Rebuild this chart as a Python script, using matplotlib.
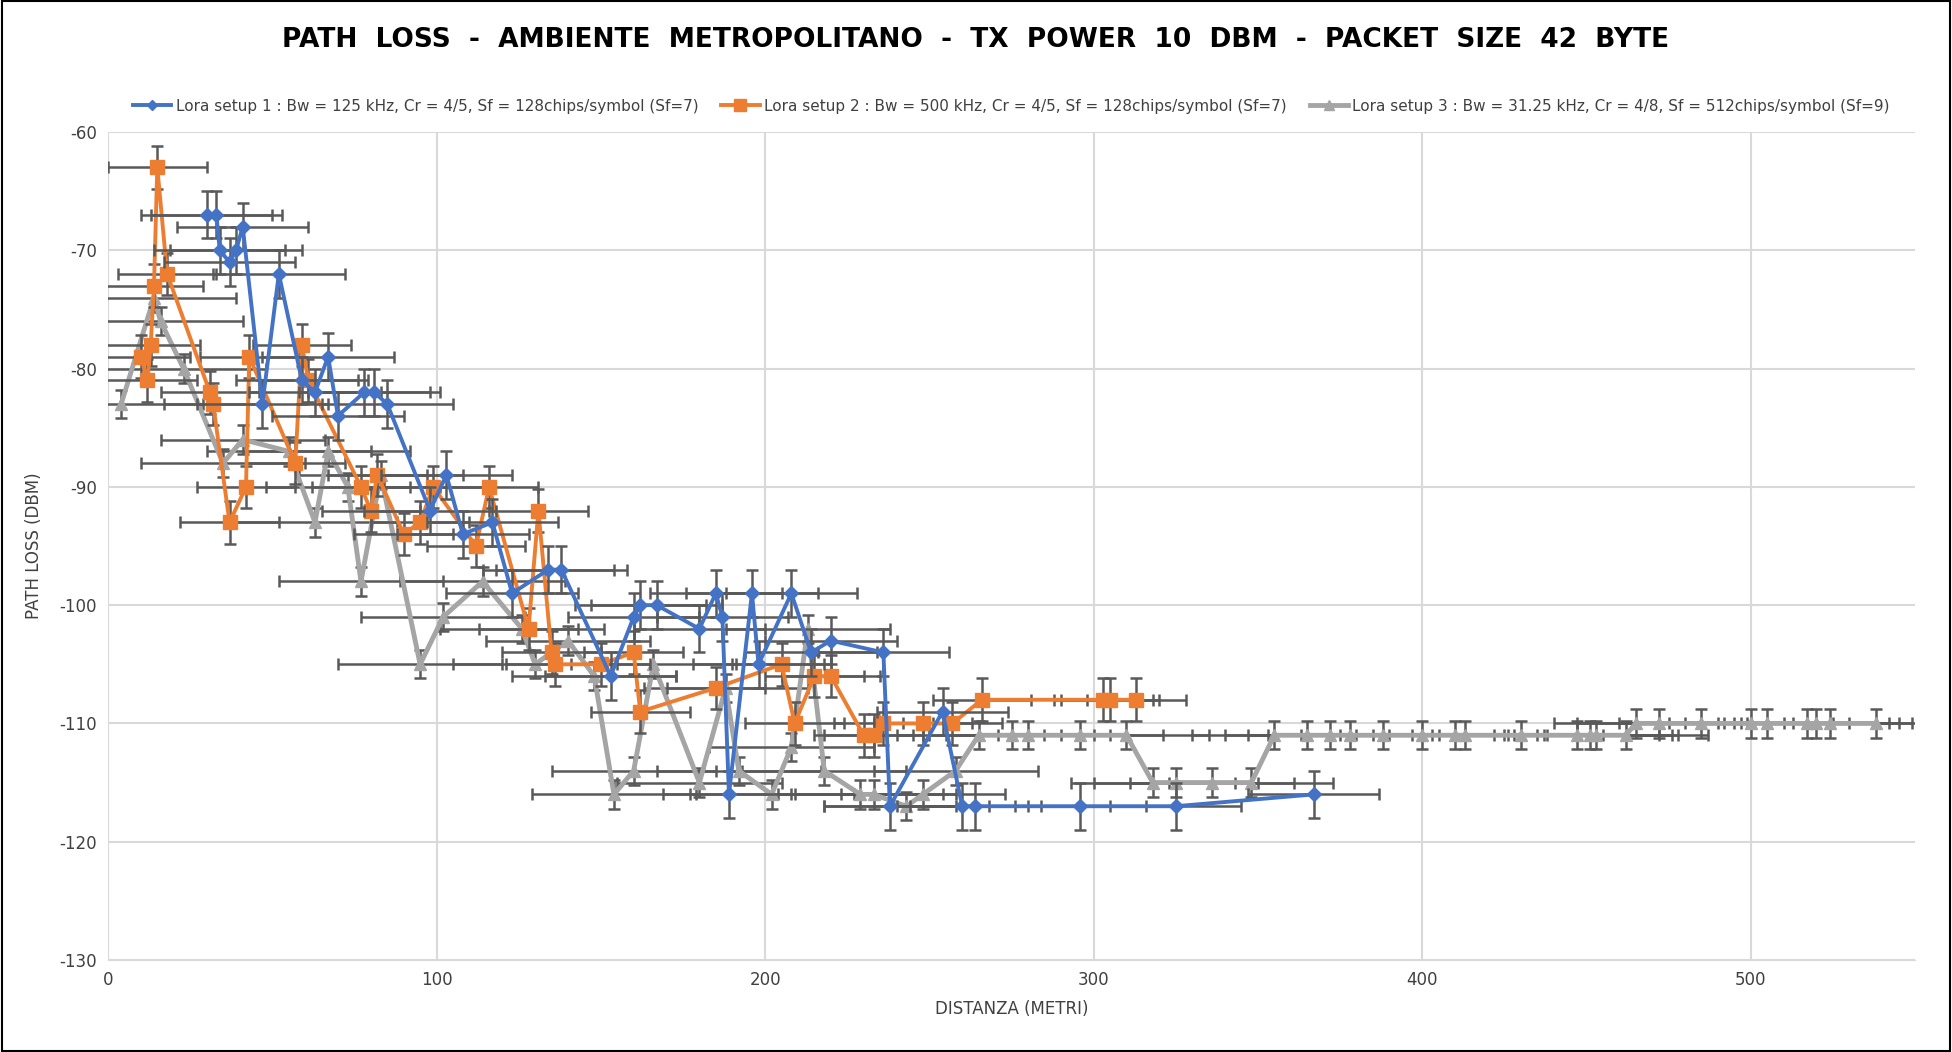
import matplotlib.pyplot as plt
from matplotlib.patches import Rectangle
from matplotlib.lines import Line2D

plt.rcParams['axes.unicode_minus'] = False

# Lora setup 1
x1 = [30, 33, 34, 37, 39, 41, 47, 52, 59, 63, 67, 70, 78, 81, 85, 98, 103, 108, 117, 123,
      134, 138, 153, 160, 162, 167, 180, 185, 187, 189, 196, 198, 208, 214, 220, 236, 238,
      254, 260, 264, 296, 325, 367]
y1 = [-67, -67, -70, -71, -70, -68, -83, -72, -81, -82, -79, -84, -82, -82, -83, -92, -89, -94, -93, -99,
      -97, -97, -106, -101, -100, -100, -102, -99, -101, -116, -99, -105, -99, -104, -103, -104, -117,
      -109, -117, -117, -117, -117, -116]

# Lora setup 2
x2 = [10, 12, 13, 14, 15, 18, 31, 32, 37, 42, 43, 57, 59, 61, 77, 80, 82, 90, 95, 99,
      112, 116, 128, 131, 135, 136, 150, 160, 162, 185, 205, 209, 215, 220, 230, 233, 236,
      248, 257, 266, 303, 305, 313]
y2 = [-79, -81, -78, -73, -63, -72, -82, -83, -93, -90, -79, -88, -78, -81, -90, -92, -89, -94, -93, -90,
      -95, -90, -102, -92, -104, -105, -105, -104, -109, -107, -105, -110, -106, -106, -111, -111, -110,
      -110, -110, -108, -108, -108, -108]

# Lora setup 3
x3 = [4, 14, 16, 23, 35, 41, 55, 63, 67, 73, 77, 83, 95, 102, 114, 126, 130, 140, 148, 154,
      160, 166, 180, 188, 192, 202, 208, 213, 218, 229, 233, 243, 248, 258, 265, 275, 280,
      296, 310, 318, 325, 336, 348, 355, 365, 372, 378, 388, 400, 410, 413, 430, 447, 451,
      453, 462, 465, 472, 485, 500, 505, 517, 520, 524, 538]
y3 = [-83, -74, -76, -80, -88, -86, -87, -93, -87, -90, -98, -89, -105, -101, -98, -102, -105, -103, -106, -116,
      -114, -105, -115, -107, -114, -116, -112, -102, -114, -116, -116, -117, -116, -114, -111, -111, -111,
      -111, -111, -115, -115, -115, -115, -111, -111, -111, -111, -111, -111, -111, -111, -111, -111, -111,
      -111, -111, -110, -110, -110, -110, -110, -110, -110, -110, -110]

labels = ["Lora setup 1 : Bw = 125 kHz, Cr = 4/5, Sf = 128chips/symbol (Sf=7)",
          "Lora setup 2 : Bw = 500 kHz, Cr = 4/5, Sf = 128chips/symbol (Sf=7)",
          "Lora setup 3 : Bw = 31.25 kHz, Cr = 4/8, Sf = 512chips/symbol (Sf=9)"]
colors = ['#4472C4', '#ED7D31', '#A5A5A5']
markers = ['D', 's', '^']
msizes = [7, 10, 9]
lws = [2.8, 2.8, 3.5]

fig = plt.figure(figsize=(19.52, 10.52), dpi=100)
ax = fig.add_axes([108 / 1952, 1 - 960 / 1052, (1915 - 108) / 1952, (960 - 132) / 1052])
fig.add_artist(Rectangle((0.001, 0.001), 0.998, 0.998, transform=fig.transFigure,
                         fill=False, edgecolor='black', linewidth=1.5))

err = dict(ecolor='#595959', elinewidth=1.8, capsize=4, capthick=1.8)
ax.errorbar(x1, y1, xerr=20, yerr=2, color=colors[0], marker=markers[0], markersize=msizes[0],
            linewidth=lws[0], zorder=4, **err)
ax.errorbar(x2, y2, xerr=15, yerr=1.8, color=colors[1], marker=markers[1], markersize=msizes[1],
            linewidth=lws[1], zorder=3, **err)
ax.errorbar(x3, y3, xerr=25, yerr=1.2, color=colors[2], marker=markers[2], markersize=msizes[2],
            linewidth=lws[2], zorder=2, **err)

ax.set_xlim(0, 550)
ax.set_ylim(-130, -60)
ax.set_xticks([0, 100, 200, 300, 400, 500])
ax.set_yticks(range(-130, -59, 10))
ax.grid(color='#D9D9D9', linewidth=1.5)
ax.set_axisbelow(True)
for s in ['top', 'right', 'left']:
    ax.spines[s].set_visible(False)
ax.spines['bottom'].set_color('#D9D9D9')
ax.tick_params(length=0, labelsize=12, colors='#404040', pad=8)
ax.set_xlabel('DISTANZA (METRI)', fontsize=12, color='#404040', labelpad=8)
ax.set_ylabel('PATH LOSS (DBM)', fontsize=12, color='#404040', labelpad=12)

fig.text(0.5, 0.962, 'PATH  LOSS  -  AMBIENTE  METROPOLITANO  -  TX  POWER  10  DBM  -  PACKET  SIZE  42  BYTE',
         ha='center', va='center', fontsize=19, fontweight='bold')
handles = [Line2D([], [], color=c, marker=m, markersize=ms * 0.8, linewidth=lw)
           for c, m, ms, lw in zip(colors, markers, msizes, lws)]
ax.legend(handles, labels, loc='lower center', bbox_to_anchor=(0.5, 1.0), ncol=3, frameon=False,
          fontsize=11, handlelength=2.5, handletextpad=0.3, columnspacing=1.5, borderaxespad=0.8,
          labelcolor='#404040')

fig.savefig('out.png', dpi=100)
